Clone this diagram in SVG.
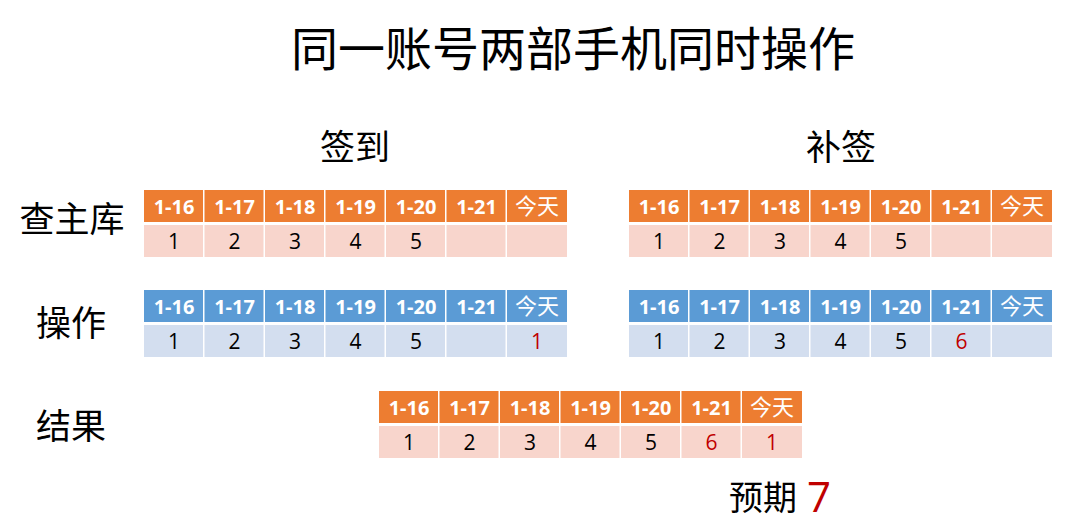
<svg xmlns="http://www.w3.org/2000/svg" width="1092" height="524" viewBox="0 0 1092 524">
<style>
text{font-family:"Open Sans","Noto Sans CJK SC",sans-serif;text-anchor:middle}
.cjk{font-family:"Noto Sans CJK SC",sans-serif;fill:#000}
.title{font-size:47px}
.lbl{font-size:35px}
.ho{fill:#ED7D31}
.do{fill:#F8D5CC}
.hb{fill:#5B9BD5}
.db{fill:#D3DEEF}
.ht{fill:#fff;font-size:20px;font-weight:bold}
.hc{fill:#fff;font-size:22px;font-family:"Noto Sans CJK SC",sans-serif}
.dt{fill:#000;font-size:21px}
.red{fill:#C00000}
</style>
<defs>
<g id="hdr">
<text class="ht" x="30" y="23.5">1-16</text>
<text class="ht" x="90.5" y="23.5">1-17</text>
<text class="ht" x="151" y="23.5">1-18</text>
<text class="ht" x="211.5" y="23.5">1-19</text>
<text class="ht" x="272" y="23.5">1-20</text>
<text class="ht" x="332.5" y="23.5">1-21</text>
<text class="hc" x="393" y="24">今天</text>
<text class="dt" x="30" y="58.5">1</text>
<text class="dt" x="90.5" y="58.5">2</text>
<text class="dt" x="151" y="58.5">3</text>
<text class="dt" x="211.5" y="58.5">4</text>
<text class="dt" x="272" y="58.5">5</text>
</g>
<g id="orows">
<rect class="ho" x="0" y="0" width="59" height="32"/><rect class="ho" x="60.5" y="0" width="59" height="32"/><rect class="ho" x="121" y="0" width="59" height="32"/><rect class="ho" x="181.5" y="0" width="59" height="32"/><rect class="ho" x="242" y="0" width="59" height="32"/><rect class="ho" x="302.5" y="0" width="59" height="32"/><rect class="ho" x="363" y="0" width="60" height="32"/>
<rect class="do" x="0" y="35" width="59" height="32"/><rect class="do" x="60.5" y="35" width="59" height="32"/><rect class="do" x="121" y="35" width="59" height="32"/><rect class="do" x="181.5" y="35" width="59" height="32"/><rect class="do" x="242" y="35" width="59" height="32"/><rect class="do" x="302.5" y="35" width="59" height="32"/><rect class="do" x="363" y="35" width="60" height="32"/>
</g>
<g id="brows">
<rect class="hb" x="0" y="0" width="59" height="32"/><rect class="hb" x="60.5" y="0" width="59" height="32"/><rect class="hb" x="121" y="0" width="59" height="32"/><rect class="hb" x="181.5" y="0" width="59" height="32"/><rect class="hb" x="242" y="0" width="59" height="32"/><rect class="hb" x="302.5" y="0" width="59" height="32"/><rect class="hb" x="363" y="0" width="60" height="32"/>
<rect class="db" x="0" y="35" width="59" height="32"/><rect class="db" x="60.5" y="35" width="59" height="32"/><rect class="db" x="121" y="35" width="59" height="32"/><rect class="db" x="181.5" y="35" width="59" height="32"/><rect class="db" x="242" y="35" width="59" height="32"/><rect class="db" x="302.5" y="35" width="59" height="32"/><rect class="db" x="363" y="35" width="60" height="32"/>
</g>
</defs>
<rect width="1092" height="524" fill="#fff"/>
<g id="title"><text class="cjk title" x="573" y="66">同一账号两部手机同时操作</text></g>
<g id="labels">
<text class="cjk lbl" x="355" y="160">签到</text>
<text class="cjk lbl" x="841" y="160">补签</text>
<text class="cjk lbl" x="72" y="232">查主库</text>
<text class="cjk lbl" x="71" y="336">操作</text>
<text class="cjk lbl" x="71" y="439">结果</text>
</g>
<g id="table-query-signin" transform="translate(144,190)"><use href="#orows"/><use href="#hdr"/></g>
<g id="table-query-makeup" transform="translate(629,190)"><use href="#orows"/><use href="#hdr"/></g>
<g id="table-op-signin" transform="translate(144,290)"><use href="#brows"/><use href="#hdr"/><text class="dt red" x="393" y="58.5">1</text></g>
<g id="table-op-makeup" transform="translate(629,290)"><use href="#brows"/><use href="#hdr"/><text class="dt red" x="332.5" y="58.5">6</text></g>
<g id="table-result" transform="translate(379,391)"><use href="#orows"/><use href="#hdr"/><text class="dt red" x="332.5" y="58.5">6</text><text class="dt red" x="393" y="58.5">1</text></g>
<g id="connectors"></g>
<g id="expected">
<text class="cjk" style="font-size:34px;text-anchor:start" x="729" y="510">预期</text>
<text class="red" style="font-family:'Open Sans',sans-serif;font-size:42px;text-anchor:start" x="807" y="512">7</text>
</g>
</svg>
